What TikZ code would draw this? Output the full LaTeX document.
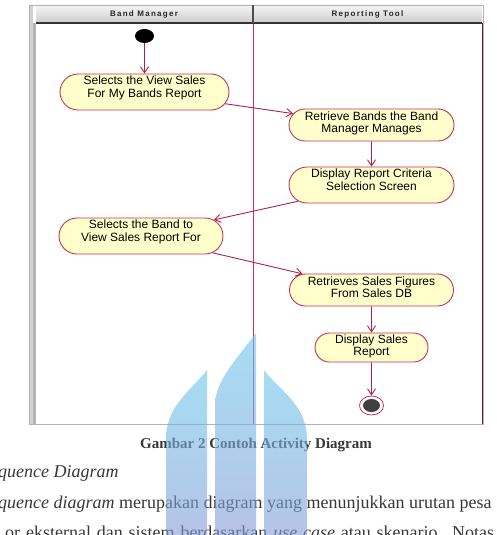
\documentclass[tikz,border=0pt]{standalone}
\usepackage{fontspec}
\setmainfont{Liberation Serif}
\newfontfamily\diafont{Liberation Sans}
\newfontfamily\hdrfont[LetterSpace=16]{Liberation Sans}
\usetikzlibrary{arrows.meta,shapes.misc,shapes.geometric}
\definecolor{actfill}{RGB}{255,255,204}
\definecolor{actline}{RGB}{200,50,90}
\definecolor{flowline}{RGB}{170,35,80}
\definecolor{lanered}{RGB}{215,45,100}
\definecolor{edgered}{RGB}{120,25,60}
\definecolor{hdrgray}{RGB}{205,205,205}
\definecolor{txtgray}{RGB}{55,55,55}
\definecolor{wmtop}{RGB}{105,200,237}
\definecolor{wmbot}{RGB}{133,153,213}
\newcommand{\acttext}[2][3.5pt]{\raisebox{#1}[\height][\depth]{\begin{tabular}{@{}c@{}}#2\end{tabular}}}
\tikzset{
  act/.style={rounded rectangle, draw=actline, fill=actfill, line width=0.9pt, inner sep=0pt,
    font=\diafont\fontsize{12}{12}\selectfont},
  flow/.style={draw=flowline, line width=0.9pt, -{Straight Barb[length=6pt,width=8pt]}},
  lanehdr/.style={font=\hdrfont\fontsize{8}{8}\selectfont\bfseries, text=black!85, inner sep=0pt},
  body/.style={anchor=base west, inner sep=0pt, text=txtgray, font=\fontsize{18}{18}\selectfont},
  pillar/.style={top color=wmtop, bottom color=wmbot, opacity=0.6}
}
\begin{document}
\begin{tikzpicture}[x=1pt, y=-1pt]
  % 活动图：Band Manager / Reporting Tool
  \useasboundingbox (0,0) rectangle (496,535);
  \clip (0,0) rectangle (496,535);

  \fill[white] (29,5) rectangle (483,424);
  \shade[top color=gray!8, bottom color=hdrgray] (36,5) rectangle (482,23);
  \fill[gray!35] (29,5) rectangle (33,424);
  \fill[gray!60] (33,23) rectangle (36,424);
  \draw[gray!60] (29,5) rectangle (483,424);
  \draw[gray!40!black, line width=1.2pt] (36,23) -- (482,23);
  \draw[gray!60!black, line width=1.5pt] (253,5) -- (253,23);
  \node[lanehdr] (mgr) at (144,14.5) {Band Manager};
  \node[lanehdr] (tool) at (367.5,14.5) {Reporting Tool};

  % 泳道分隔线
  \fill[lanered] (252.6,23.6) rectangle (254,423.5);
  \fill[edgered] (481.8,23) rectangle (483.2,423.5);

  \node[ellipse, fill=black, minimum width=19pt, minimum height=14pt, inner sep=0pt] (init) at (144.5,36) {};
  \node[act, minimum width=169pt, minimum height=36pt] (selview) at (144.5,92) {\acttext{Selects the View Sales\\For My Bands Report}};
  \node[act, minimum width=165pt, minimum height=32pt] (retrieve) at (371.5,125) {\acttext[1.2pt]{Retrieve Bands the Band\\Manager Manages}};
  \node[act, minimum width=165pt, minimum height=36pt] (criteria) at (371.5,185) {\acttext{Display Report Criteria\\Selection Screen}};
  \node[act, minimum width=164pt, minimum height=36pt] (selband) at (141,236) {\acttext{Selects the Band to\\View Sales Report For}};
  \node[act, minimum width=164pt, minimum height=32pt] (figures) at (371.5,290) {\acttext[1.2pt]{Retrieves Sales Figures\\From Sales DB}};
  \node[act, minimum width=113pt, minimum height=29pt] (showrep) at (371.5,347.5) {\acttext[0.5pt]{Display Sales\\Report}};
  \node[ellipse, draw=actline, line width=0.8pt, fill=white, minimum width=24pt, minimum height=19pt, inner sep=0pt] (final) at (371.5,405.5) {};
  \fill[black!75] (final.center) ellipse (8.5pt and 6.5pt);

  \draw[flow] (init) -- (selview);
  \draw[flow] (selview) -- (retrieve);
  \draw[flow] (retrieve) -- (criteria);
  \draw[flow] (criteria) -- (selband);
  \draw[flow] (selband) -- (figures);
  \draw[flow] (figures) -- (showrep);
  \draw[flow] (showrep) -- (final);

  \node[anchor=base, inner sep=0pt, text=txtgray, font=\bfseries\fontsize{15}{15}\selectfont] (cap) at (256,448) {Gambar 2 Contoh Activity Diagram};
  \node[body] (sub) at (-2,477) {\textit{quence Diagram}};
  \node[body] (para1) at (-2,508) {\textit{quence diagram} merupakan diagram yang menunjukkan urutan pesa};
  \node[body] (para2) at (5,538) {\makebox[489pt][s]{or eksternal dan sistem berdasarkan \textit{use case} atau skenario. Notas}};

  % 水印
  \shade[pillar] (207,370) -- (207,540) -- (166,540) -- (166,440) .. controls (166,405) and (190,392) .. (207,370) -- cycle;
  \shade[pillar] (256,333) -- (256,540) -- (215,540) -- (215,405) .. controls (215,380) and (240,355) .. (256,333) -- cycle;
  \shade[pillar] (264,370) -- (264,540) -- (307,540) -- (307,440) .. controls (307,405) and (281,392) .. (264,370) -- cycle;
\end{tikzpicture}
\end{document}
